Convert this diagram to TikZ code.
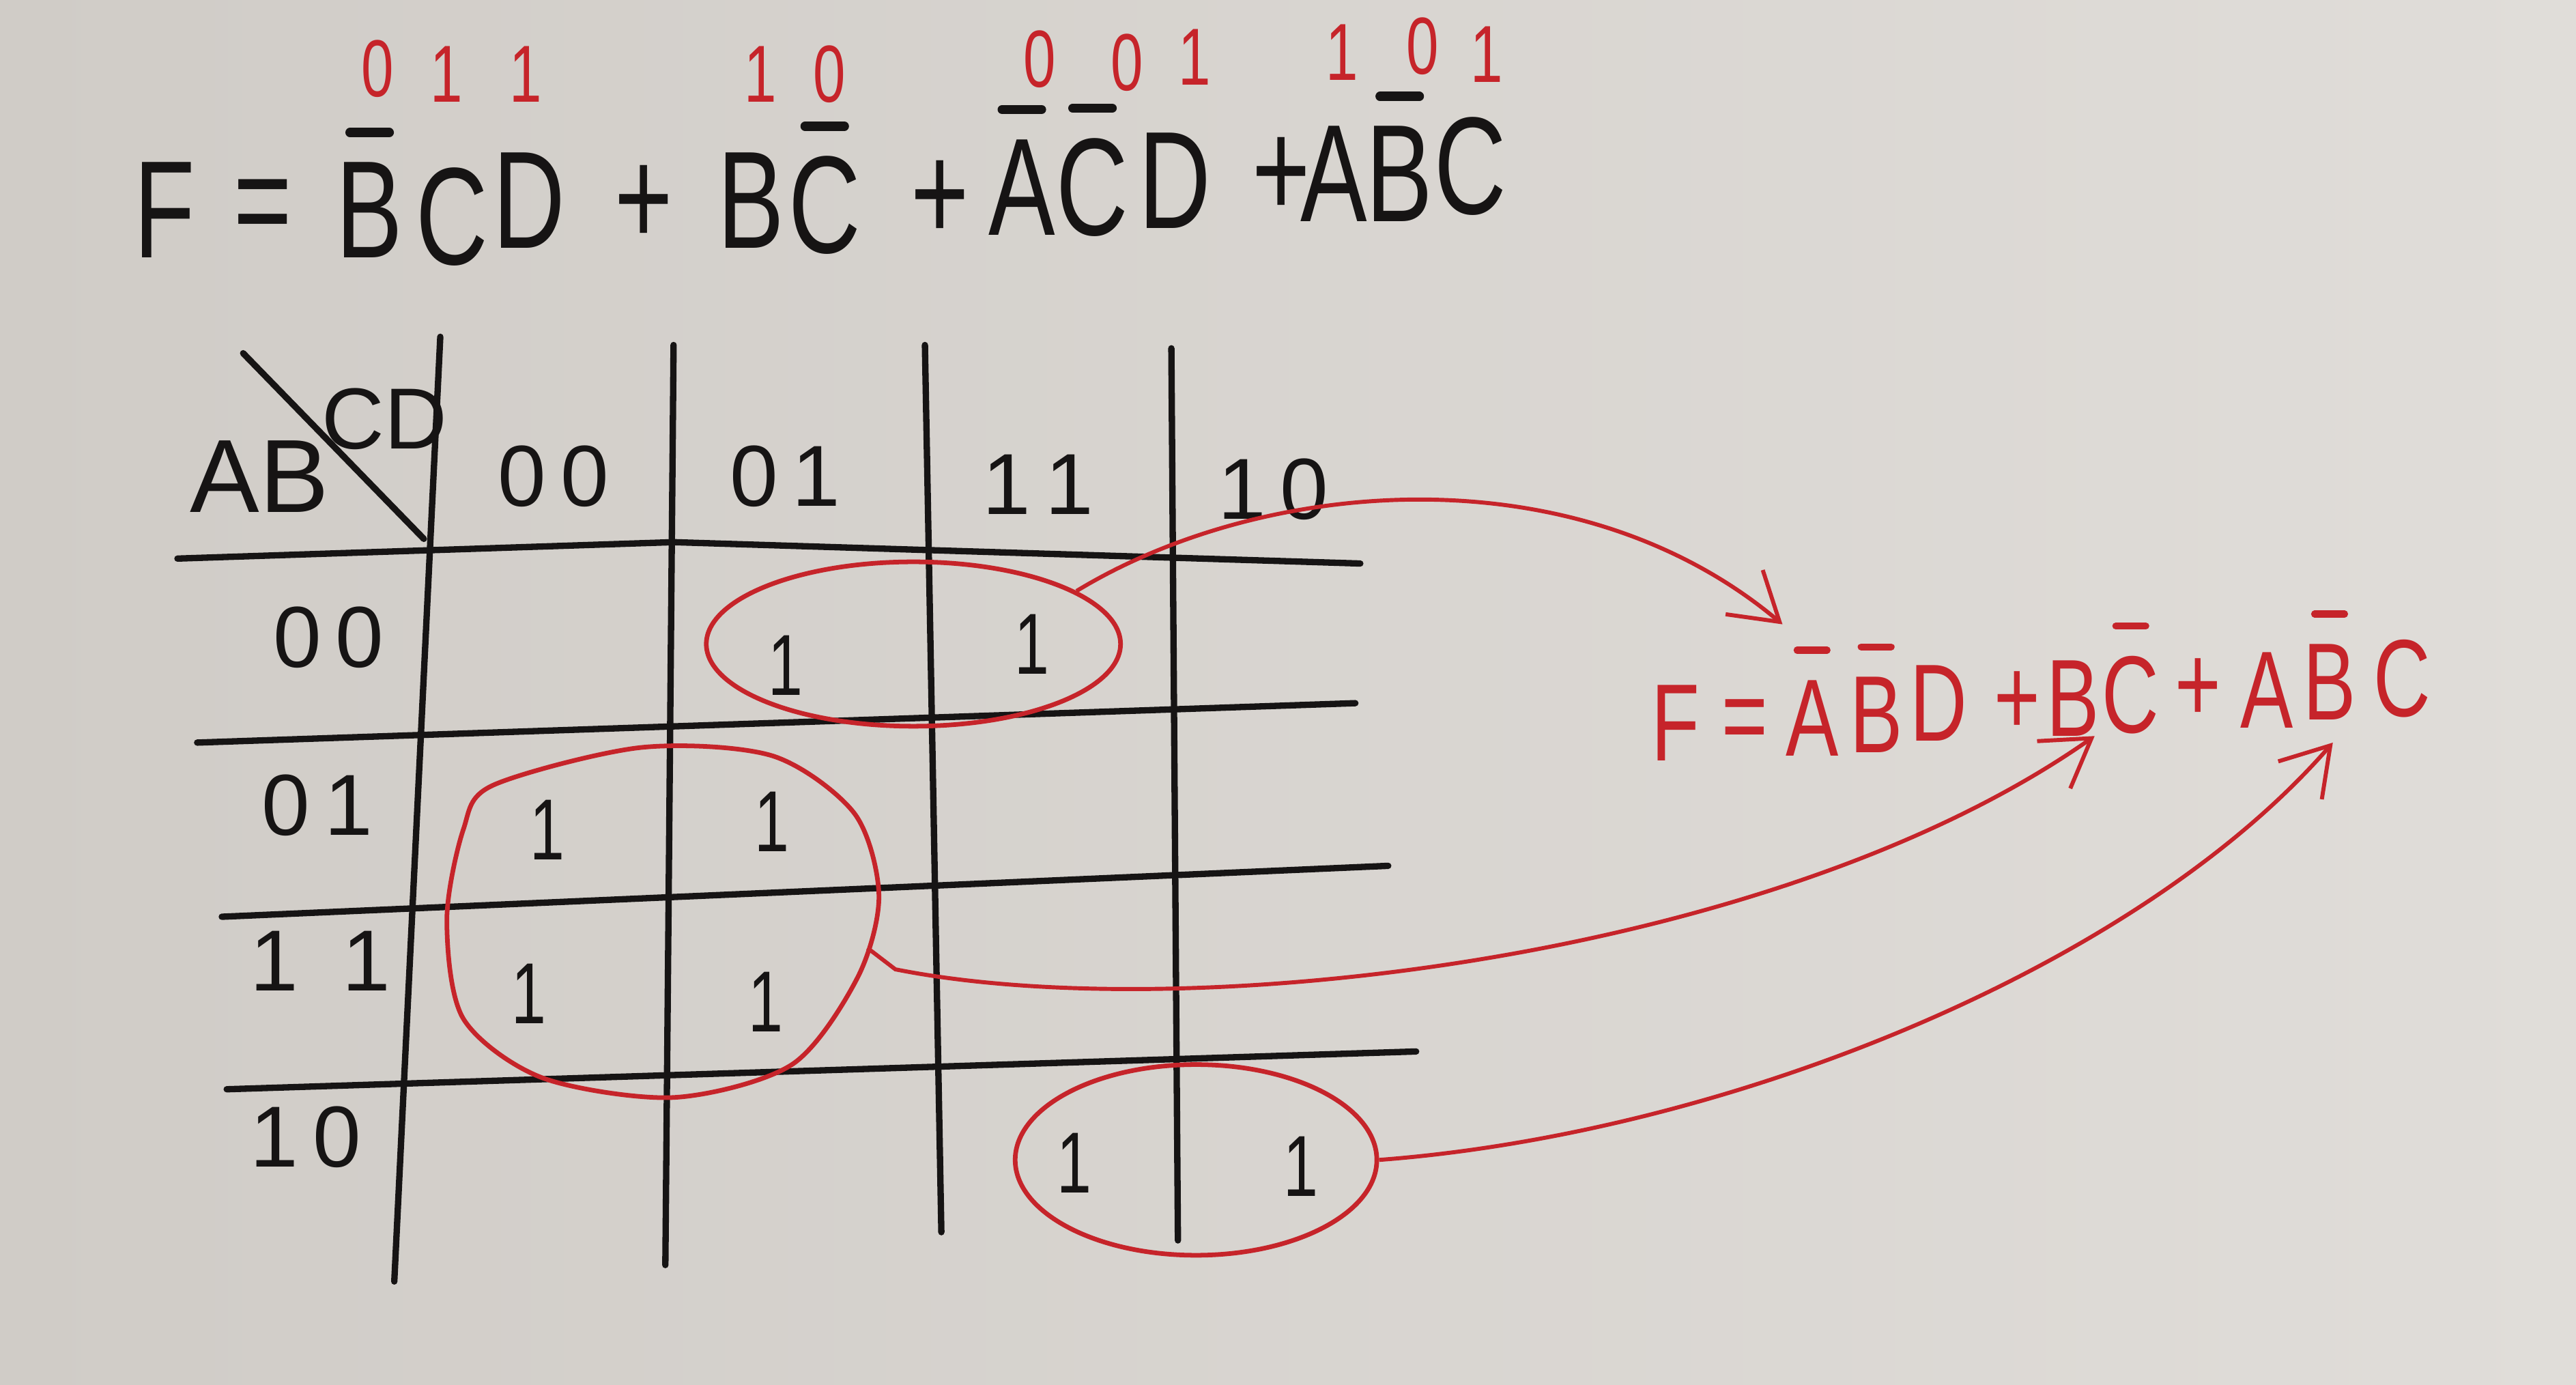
\documentclass[tikz,border=0pt]{standalone}
\usepackage{fontspec}
\setmainfont{Liberation Sans}
\newfontfamily\hand[FakeStretch=0.72]{Liberation Sans}
\usetikzlibrary{arrows.meta,shapes.geometric}
\definecolor{paperdark}{RGB}{208,204,199}
\definecolor{paperlight}{RGB}{224,221,217}
\definecolor{ink}{RGB}{22,20,20}
\definecolor{redink}{RGB}{198,36,42}
\begin{document}
\begin{tikzpicture}[x=0.01cm,y=-0.01cm,
  glyph/.style={inner sep=0pt, text=ink, font=\hand\fontsize{24}{28}\selectfont},
  bit/.style={inner sep=0pt, text=redink, font=\hand\fontsize{14}{16}\selectfont},
  lbl/.style={inner sep=0pt, text=ink, font=\fontsize{15}{18}\selectfont},
  one/.style={inner sep=0pt, text=ink, font=\hand\fontsize{15}{18}\selectfont},
  rglyph/.style={inner sep=0pt, text=redink, font=\hand\fontsize{19}{22}\selectfont},
  gridline/.style={draw=ink, line width=1.1pt, line cap=round},
  bar/.style={draw=ink, line width=1.6pt, line cap=round},
  rbar/.style={draw=redink, line width=1.2pt, line cap=round},
  loopring/.style={draw=redink, line width=0.8pt},
  link/.style={draw=redink, line width=0.7pt, -{Straight Barb[length=8pt,width=10pt]}},
]
% paper
\shade[left color=paperdark, right color=paperlight] (0,0) rectangle (1568,843);
\useasboundingbox (0,0) rectangle (1568,843);

% top equation
\foreach \x/\y/\t [count=\i] in {100/128/F, 160/130/=, 225/128/B, 275/132/C, 322/122/D,
  392/125/+, 457/122/B, 502/125/C, 572/122/+, 622/114/A, 665/114/C, 715/110/D,
  780/108/+, 812/106/A, 852/106/B, 895/101/C}
  \node[glyph] (e\i) at (\x,\y) {\t};
\foreach \n in {3,8,10,11,15}
  \draw[bar] ([xshift=-3.4pt,yshift=5pt]e\n.north) -- ([xshift=3.4pt,yshift=5pt]e\n.north);

% red bits above
\foreach \x/\y/\t [count=\i] in {230/42/0, 272/45/1, 320/45/1, 463/45/1, 505/45/0,
  633/36/0, 686/38/0, 727/35/1, 817/32/1, 866/28/0, 905/33/1}
  \node[bit] (b\i) at (\x,\y) {\t};

% K-map grid
\draw[gridline] (268,205) -- (240,780);
\draw[gridline] (410,210) -- (405,770);
\draw[gridline] (563,210) -- (573,750);
\draw[gridline] (713,212) -- (717,755);
\draw[gridline] (108,340) -- (410,330) -- (828,343);
\draw[gridline] (120,452) -- (825,428);
\draw[gridline] (135,558) -- (845,527);
\draw[gridline] (138,663) -- (862,640);
\draw[gridline] (148,215) -- (258,328);

% labels
\node[lbl, font=\fontsize{18}{20}\selectfont] (ab) at (158,290) {AB};
\node[lbl, font=\fontsize{15}{18}\selectfont] (cd) at (234,255) {CD};
\node[lbl] (c1) at (337,290) {0\,0};
\node[lbl] (c2) at (478,290) {0\,1};
\node[lbl] (c3) at (632,295) {1\,1};
\node[lbl] (c4) at (775,298) {1\,0};
\node[lbl] (r1) at (200,388) {0\,0};
\node[lbl] (r2) at (193,490) {0\,1};
\node[lbl] (r3) at (195,585) {1\enspace1};
\node[lbl] (r4) at (186,692) {1\,0};

% cell ones
\foreach \x/\y [count=\i] in {478/405, 628/392, 333/505, 470/500, 322/605, 466/610, 654/708, 792/710}
  \node[one] (n\i) at (\x,\y) {1};

% red groups
\node[loopring, ellipse, minimum width=2.52cm, minimum height=1.0cm, inner sep=0pt] (g1) at (556,392) {};
\node[loopring, ellipse, minimum width=2.2cm, minimum height=1.16cm, inner sep=0pt] (g3) at (728,706) {};
\draw[loopring] plot[smooth cycle] coordinates {(300,478) (390,455) (470,460) (520,495) (535,545)
  (522,595) (482,648) (410,668) (330,656) (282,620) (272,560) (282,505)};
\coordinate (g2e) at (528,577);

% red result
\foreach \x/\y/\t [count=\i] in {1020/440/F, 1062/442/=, 1103/437/A, 1142/435/B, 1180/428/D,
  1228/428/+, 1262/425/B, 1297/423/C, 1338/420/+, 1380/420/A, 1418/415/B, 1462/413/C}
  \node[rglyph] (q\i) at (\x,\y) {\t};
\foreach \n in {3,4,8,11}
  \draw[rbar] ([xshift=-2.6pt,yshift=5pt]q\n.north) -- ([xshift=2.6pt,yshift=5pt]q\n.north);

% arrows
\coordinate (t1) at (1085,380);
\coordinate (t2) at (1275,448);
\coordinate (t3) at (1420,452);
\draw[link] (g1.18) .. controls (770,290) and (960,275) .. (t1);
\draw[link] (g2e) -- (545,590) .. controls (720,625) and (1080,585) .. (t2);
\draw[link] (g3.east) .. controls (1050,690) and (1300,590) .. (t3);
\end{tikzpicture}
\end{document}
